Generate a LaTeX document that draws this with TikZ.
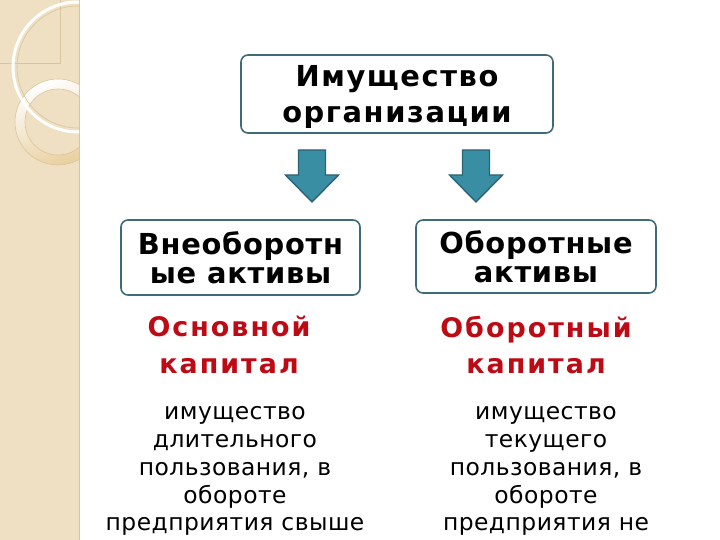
\documentclass[tikz,border=0pt]{standalone}
\usepackage{fontspec}
\setmainfont{DejaVu Sans}
\usetikzlibrary{positioning}
\definecolor{boxline}{HTML}{3D6B77}
\definecolor{arrowfill}{HTML}{3A8EA4}
\definecolor{arrowline}{HTML}{2C6275}
\definecolor{capred}{HTML}{BE0A14}
\definecolor{strip}{HTML}{EFE0C3}
\definecolor{stripdark}{HTML}{D9C49C}
\definecolor{ringdark}{HTML}{E9CF9F}
\tikzset{
    asset diagram/.style = {x=1bp, y=-1bp},
    block/.style         = {draw=boxline, line width=1.6bp, rounded corners=7bp,
                            fill=white, align=center, inner sep=0pt},
    head/.style          = {text depth=0pt,
                            font=\fontsize{29}{36}\selectfont\bfseries\addfontfeatures{LetterSpace=5.5}},
    subhead/.style       = {font=\fontsize{29}{29}\selectfont\bfseries\addfontfeatures{LetterSpace=2.5}},
    capital/.style       = {text=capred, align=center, inner sep=0pt,
                            font=\fontsize{27}{37}\selectfont\bfseries\addfontfeatures{LetterSpace=7.5}},
    note/.style          = {align=center, inner sep=0pt,
                            font=\fontsize{23.5}{28}\selectfont\addfontfeatures{LetterSpace=2}},
    downarrow/.pic       = {\draw[fill=arrowfill, draw=arrowline, line width=1.4bp,
                                  line join=miter]
                                (-13.5,0) -- (13.5,0) -- (13.5,25) -- (26.5,25)
                                -- (0,52) -- (-26.5,25) -- (-13.5,25) -- cycle;}
}

\begin{document}
\begin{tikzpicture}[asset diagram]
\useasboundingbox (0,0) rectangle (720,540);

% ================= Decorative strip =================
\fill[strip] (0,0) rectangle (79,540);
\draw[stripdark, line width=0.8bp] (79,0) -- (79,540);
\begin{scope}
    \clip (0,0) rectangle (79,540);
    \draw[stripdark, line width=0.6bp] (0,63) -- (60,63) -- (60,0);
    \shade[even odd rule, top color=white, bottom color=ringdark, shading angle=20]
        (58,122) circle (43) (58,122) circle (33);
    \draw[stripdark, line width=0.6bp] (58,122) circle (43) (58,122) circle (33);
    \draw[stripdark, line width=0.6bp] (78,67) circle (61);
    \draw[white, line width=3bp] (78,67) circle (65);
\end{scope}

% ================= Boxes =================
\node[block, head, minimum width=312bp, minimum height=78bp] (property) at (397,94)
    {Имущество\\организации};
\node[block, subhead, minimum width=239bp, minimum height=75bp] (fixed) at (240.5,257.5)
    {Внеоборотн\\ые активы};
\node[block, subhead, minimum width=240bp, minimum height=73bp] (current) at (536,256.5)
    {Оборотные\\активы};

% ================= Arrows =================
\pic (fixedarrow) at (312,150) {downarrow};
\pic (currentarrow) at (476,150) {downarrow};

% ================= Capital labels =================
\node[capital] (fixedcap) at (229,345) {Основной\\капитал};
\node[capital] (currentcap) at (536,345) {Оборотный\\капитал};

% ================= Notes =================
\node[note, anchor=north] (fixednote) at (235,406)
    {имущество\\длительного\\пользования, в\\обороте\\предприятия свыше};
\node[note, anchor=north] (currentnote) at (546,406)
    {имущество\\текущего\\пользования, в\\обороте\\предприятия не};

\end{tikzpicture}
\end{document}
